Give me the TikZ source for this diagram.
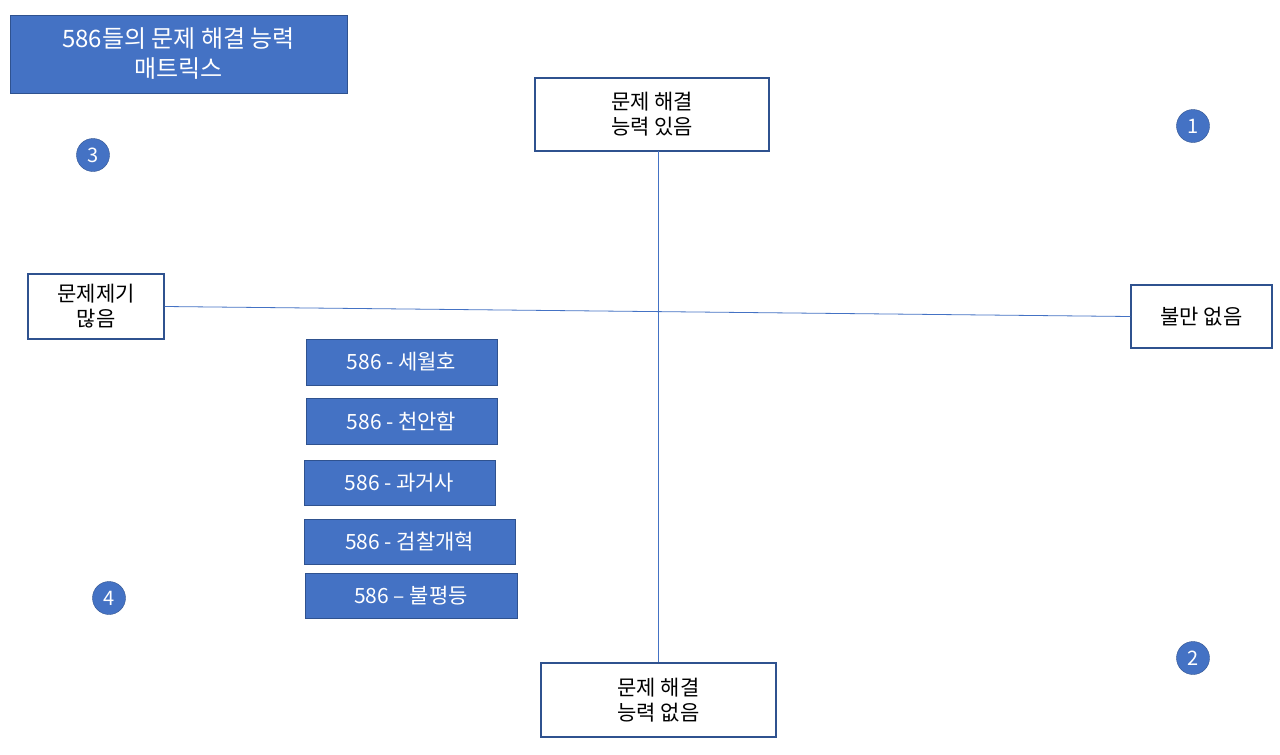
\documentclass[tikz,border=0pt]{standalone}
\usepackage{fontspec}
\setmainfont{Noto Sans CJK KR}
\definecolor{ob}{HTML}{4472C4}
\definecolor{dk}{HTML}{2F528F}
\begin{document}
\begin{tikzpicture}[x=1pt,y=-1pt,
 wbox/.style={draw=dk,line width=1.2pt,fill=white,align=center,font=\fontsize{21}{25}\selectfont},
 bbox/.style={draw=dk,line width=1pt,fill=ob,text=white,align=center,font=\fontsize{21}{25}\selectfont},
 num/.style={circle,draw=dk,fill=ob,text=white,minimum size=33pt,inner sep=0pt,font=\fontsize{20}{20}\selectfont},
 ln/.style={draw=ob,line width=0.8pt}]
\useasboundingbox (0,0) rectangle (1280,755);
\fill[white] (0,0) rectangle (1280,755);
\node[bbox,minimum width=337pt,minimum height=78pt,font=\fontsize{24}{30}\selectfont] (title) at (178.5,54) {586들의 문제 해결 능력\\매트릭스};
\node[wbox,minimum width=234pt,minimum height=73pt] (top) at (652,114.5) {문제 해결\\능력 있음};
\node[wbox,minimum width=235pt,minimum height=74pt] (bot) at (658.5,700) {문제 해결\\능력 없음};
\node[wbox,minimum width=136pt,minimum height=65pt] (left) at (96,306.5) {문제제기\\많음};
\node[wbox,minimum width=141pt,minimum height=63pt] (right) at (1201.5,316.5) {불만 없음};
\draw[ln] (658,151) -- (bot.north -| 658,0);
\draw[ln] (left.east) -- (right.west);
\node[bbox,minimum width=191pt,minimum height=46pt] (b1) at (401.5,362) {586 - 세월호};
\node[bbox,minimum width=191pt,minimum height=46pt] (b2) at (401.5,421) {586 - 천안함};
\node[bbox,minimum width=191pt,minimum height=45pt] (b3) at (399.5,482.5) {586 - 과거사};
\node[bbox,minimum width=211pt,minimum height=45pt] (b4) at (409.5,541.5) {586 - 검찰개혁};
\node[bbox,minimum width=212pt,minimum height=45pt] (b5) at (411,595.5) {586 – 불평등};
\node[num] (n1) at (1193,126) {1};
\node[num] (n2) at (1193,658) {2};
\node[num] (n3) at (93,155) {3};
\node[num] (n4) at (109,598) {4};
\end{tikzpicture}
\end{document}
